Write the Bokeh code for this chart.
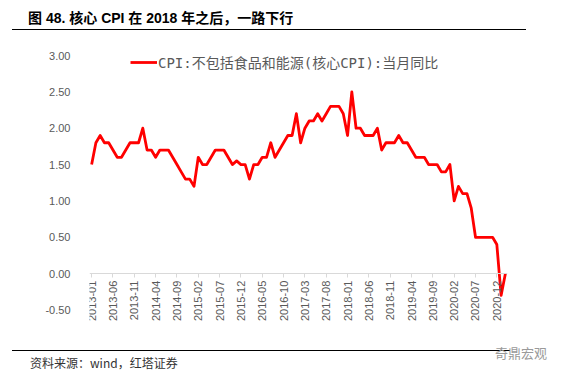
import math
from bokeh.plotting import figure
from bokeh.models import (ColumnDataSource, FixedTicker, NumeralTickFormatter,
                          Legend, LegendItem, Div)
from bokeh.layouts import column
from bokeh.embed import file_html
from bokeh.resources import INLINE

# ---- data (monthly, 2013-01 .. 2021-02) ----
core_cpi = [
    1.5, 1.8, 1.9, 1.8, 1.8, 1.7, 1.6, 1.6, 1.7, 1.8, 1.8, 1.8,   # 2013
    2.0, 1.7, 1.7, 1.6, 1.7, 1.7, 1.7, 1.6, 1.5, 1.4, 1.3, 1.3,   # 2014
    1.2, 1.6, 1.5, 1.5, 1.6, 1.7, 1.7, 1.7, 1.6, 1.5, 1.55, 1.5,  # 2015
    1.5, 1.3, 1.5, 1.5, 1.6, 1.6, 1.8, 1.6, 1.7, 1.8, 1.9, 1.9,   # 2016
    2.2, 1.8, 2.0, 2.1, 2.1, 2.2, 2.1, 2.2, 2.3, 2.3, 2.3, 2.2,   # 2017
    1.9, 2.5, 2.0, 2.0, 1.9, 1.9, 1.9, 2.0, 1.7, 1.8, 1.8, 1.8,   # 2018
    1.9, 1.8, 1.8, 1.7, 1.6, 1.6, 1.6, 1.5, 1.5, 1.5, 1.4, 1.4,   # 2019
    1.5, 1.0, 1.2, 1.1, 1.1, 0.9, 0.5, 0.5, 0.5, 0.5, 0.5, 0.4,   # 2020
    -0.3, 0.0,                                                    # 2021
]
tick_labels = ["2013-01", "2013-06", "2013-11", "2014-04", "2014-09",
               "2015-02", "2015-07", "2015-12", "2016-05", "2016-10",
               "2017-03", "2017-08", "2018-01", "2018-06", "2018-11",
               "2019-04", "2019-09", "2020-02", "2020-07", "2020-12"]
tick_step = 5
y_ticks = [-0.5, 0.0, 0.5, 1.0, 1.5, 2.0, 2.5, 3.0]
series_name = "CPI:不包括食品和能源(核心CPI):当月同比"
title_text = "图 48. 核心 CPI 在 2018 年之后，一路下行"
source_text = "资料来源：wind，红塔证券"
watermark_text = "奇鼎宏观"

month_idx = list(range(len(core_cpi)))
src = ColumnDataSource(data=dict(x=month_idx, y=core_cpi))

GREY = "#595959"
AXFONT = "Liberation Sans"

p = figure(width=557, height=317, output_backend="svg", toolbar_location=None,
           title=None, x_range=(-0.5, len(core_cpi) - 0.5), y_range=(-0.713, 3.0),
           min_border_left=81, min_border_right=58, min_border_top=24,
           min_border_bottom=23)
p.outline_line_color = None
p.grid.visible = False
p.background_fill_color = "white"
p.border_fill_color = "white"

r = p.line("x", "y", source=src, line_color="#ff0000", line_width=2.8,
           line_join="round")

# x axis at y = 0
tick_pos = [i * tick_step for i in range(len(tick_labels))]
xa = p.xaxis[0]
xa.ticker = FixedTicker(ticks=tick_pos)
xa.major_label_overrides = {t: lab for t, lab in zip(tick_pos, tick_labels)}
xa.fixed_location = 0
xa.axis_line_color = "#d9d9d9"
xa.axis_line_width = 1
xa.major_tick_line_color = "#d9d9d9"
xa.major_tick_out = 4
xa.major_tick_in = 0
xa.minor_tick_line_color = None
xa.major_label_orientation = math.pi / 2
xa.major_label_standoff = 3
xa.major_label_text_font = AXFONT
xa.major_label_text_font_size = "11px"
xa.major_label_text_color = GREY

ya = p.yaxis[0]
ya.ticker = FixedTicker(ticks=y_ticks)
ya.formatter = NumeralTickFormatter(format="0.00")
ya.axis_line_color = None
ya.major_tick_line_color = None
ya.minor_tick_line_color = None
ya.major_label_standoff = 13
ya.major_label_text_font = AXFONT
ya.major_label_text_font_size = "11px"
ya.major_label_text_color = GREY

legend = Legend(items=[LegendItem(label=series_name, renderers=[r])],
                location=(41, 253), orientation="horizontal",
                padding=0, margin=0, spacing=0,
                glyph_width=27, glyph_height=14, label_height=14,
                label_standoff=1,
                label_text_font="DejaVu Sans Mono, Noto Sans CJK SC",
                label_text_font_size="14px", label_text_color=GREY,
                border_line_color=None, background_fill_alpha=0)
p.add_layout(legend, "center")

title_div = Div(
    text=('<div style="margin-left:4px;width:498px;height:21px;'
          'border-bottom:1.5px solid #000;box-sizing:content-box;'
          "font-family:'Liberation Sans','Noto Sans CJK SC';font-weight:bold;"
          'font-size:14px;line-height:21px;padding-left:16px;color:#000;'
          'white-space:nowrap">' + title_text + '</div>'),
    width=557, height=23, margin=0)

footer_div = Div(
    text=('<div style="position:relative;margin-left:4px;width:498px;'
          'margin-top:2px;border-top:1.5px solid #000;padding-top:4px;'
          "font-family:'Noto Sans CJK SC';font-size:12px;line-height:16px;"
          'padding-left:18px;color:#333;white-space:nowrap">' + source_text +
          '<span style="position:absolute;left:483px;top:-6px;color:#9a9a9a;'
          "font-size:13px;font-family:'Noto Sans CJK SC'\">" + watermark_text +
          '</span></div>'),
    width=557, height=22, margin=0)

layout = column(title_div, p, footer_div, spacing=0, margin=(8, 0, 0, 8))
open("out.html", "w").write(file_html(layout, INLINE))
